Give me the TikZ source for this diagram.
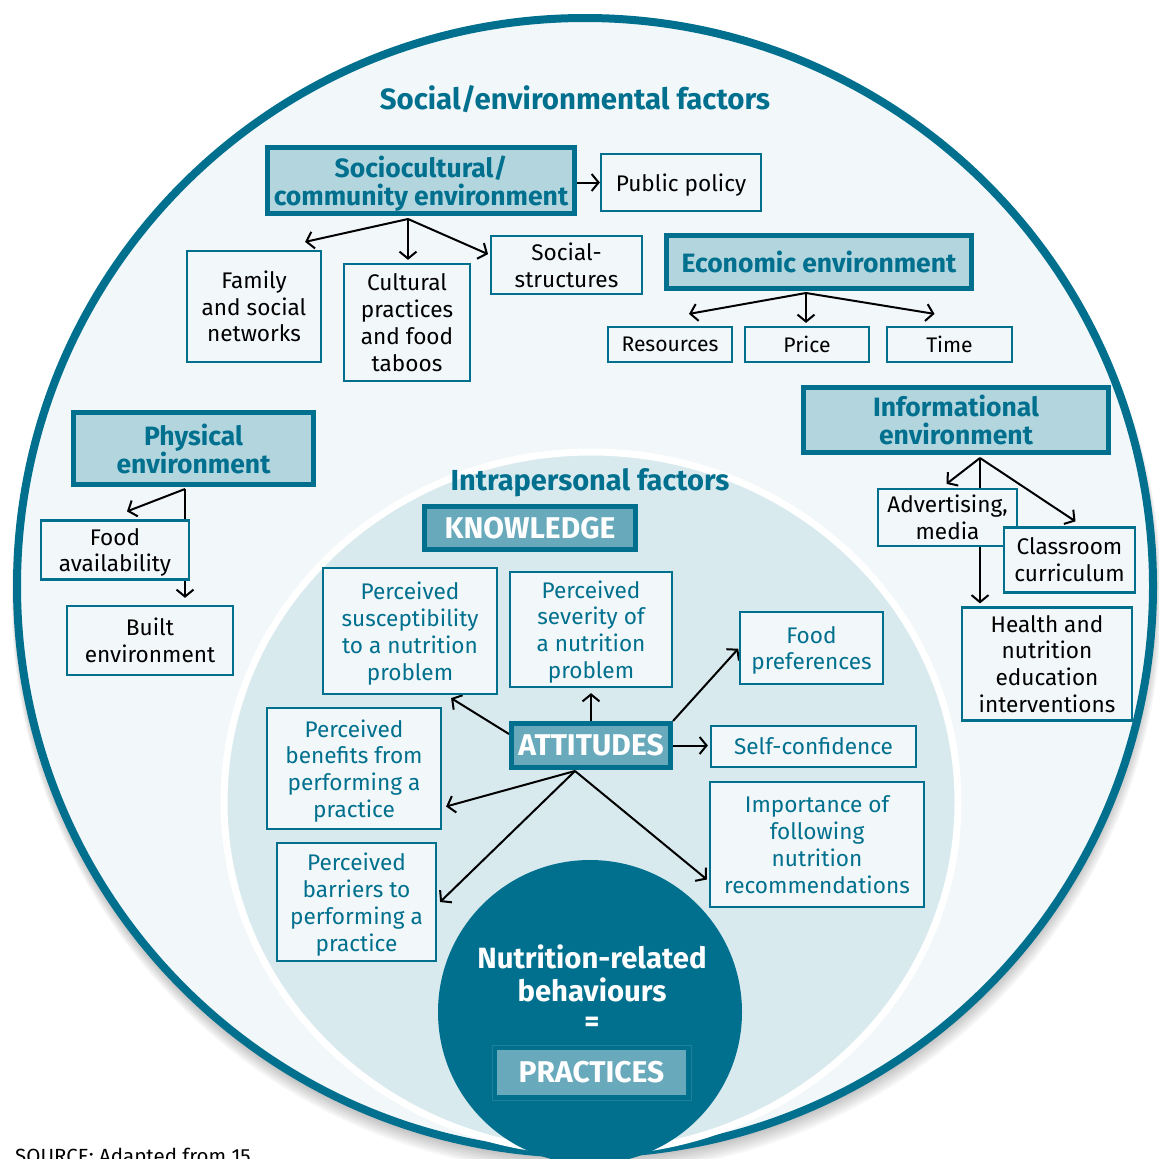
\documentclass[tikz,border=0pt]{standalone}
\usepackage{fontspec}
\setmainfont{Fira Sans}
\newfontfamily\headfont{Fira Sans}
\usetikzlibrary{arrows.meta,calc}
\definecolor{teal1}{RGB}{0,112,142}
\definecolor{bgfill}{RGB}{242,247,249}
\definecolor{innerfill}{RGB}{217,234,238}
\definecolor{headfill}{RGB}{178,213,222}
\definecolor{keyfill}{RGB}{104,169,187}
\definecolor{practline}{RGB}{30,128,155}
\pgfdeclarelayer{circles}
\pgfdeclarelayer{links}
\pgfsetlayers{circles,links,main}
\begin{document}
\begin{tikzpicture}[x=1pt,y=-1pt,
  headbox/.style={draw=teal1, line width=5pt, fill=headfill, text=teal1,
    font=\headfont\bfseries\fontsize{26.5}{28}\selectfont, align=center, inner sep=0pt},
  outbox/.style={draw=teal1, line width=2.2pt, fill=bgfill, text=black,
    font=\fontsize{22.6}{26.8}\selectfont, align=center, inner sep=0pt},
  inbox/.style={outbox, text=teal1},
  keybox/.style={draw=teal1, line width=5pt, fill=keyfill, text=white,
    font=\headfont\bfseries\fontsize{30}{32}\selectfont, inner sep=0pt},
  titletext/.style={text=teal1, font=\headfont\bfseries\fontsize{29.4}{32}\selectfont, inner sep=0pt},
  lowtext/.style={text depth=0pt},
  link/.style={line width=2pt, -{Straight Barb[length=7pt,width=17pt]}},
]
\useasboundingbox (0,0) rectangle (1159,1159);

% ---------- background circles ----------
\begin{pgfonlayer}{circles}
  \foreach \i in {1,...,9}{
    \fill[black, opacity=0.035] (584+0.3*\i, 586+1.4*\i) circle[radius=567pt+0.9pt*\i];
  }
  \fill[bgfill] (584,586) circle[radius=567pt];
  \draw[teal1, line width=8pt] (585,586) circle[radius=568pt];
  \draw[white, line width=7pt, fill=innerfill] (591,802) ellipse[x radius=367pt, y radius=350pt];
  \node[circle, fill=teal1, minimum size=304pt, inner sep=0pt] (behav) at (590,1012) {};
\end{pgfonlayer}

% ---------- titles ----------
\node[titletext] (title) at (575,99) {Social/environmental factors};
\node[titletext, lowtext, font=\headfont\bfseries\fontsize{29}{32}\selectfont] (intra) at (590,479) {Intrapersonal factors};

% ---------- sociocultural ----------
\node[headbox, text depth=-3pt, minimum width=307pt, minimum height=66pt] (socio) at (421,180.5) {Sociocultural/\\community environment};
\node[outbox, lowtext, minimum width=160pt, minimum height=57pt] (pub) at (681,182.5) {Public policy};
\node[outbox, minimum width=134pt, minimum height=111pt] (fam) at (254,306.5) {Family\\and social\\networks};
\node[outbox, minimum width=126pt, minimum height=117pt] (cult) at (407,322.5) {Cultural\\practices\\and food\\taboos};
\node[outbox, minimum width=151pt, minimum height=58pt] (soc) at (566.5,265) {Social-\\structures};

% ---------- economic ----------
\node[headbox, minimum width=305pt, minimum height=53pt] (econ) at (819,262) {Economic environment};
\node[outbox, font=\fontsize{21.1}{24}\selectfont, minimum width=124pt, minimum height=35pt] (res) at (670,344.5) {Resources};
\node[outbox, font=\fontsize{21.1}{24}\selectfont, minimum width=124pt, minimum height=35pt] (price) at (807,344.5) {Price};
\node[outbox, font=\fontsize{21.1}{24}\selectfont, minimum width=125pt, minimum height=35pt] (time) at (949.5,344.5) {Time};

% ---------- informational ----------
\node[headbox, minimum width=305pt, minimum height=65pt] (info) at (956,420) {Informational\\environment};
\node[outbox, minimum width=139pt, minimum height=57pt] (adv) at (947.5,517.5) {Advertising,\\media};
\node[outbox, minimum width=131pt, minimum height=65pt] (cls) at (1069.5,560) {Classroom\\curriculum};
\node[outbox, minimum width=170pt, minimum height=113pt] (hlth) at (1047,664) {Health and\\nutrition\\education\\interventions};

% ---------- physical ----------
\node[headbox, minimum width=240pt, minimum height=72pt] (phys) at (193.5,448.5) {Physical\\environment};
\node[outbox, lowtext, minimum width=148pt, minimum height=59pt] (food) at (115,550) {Food\\availability};
\node[outbox, minimum width=166pt, minimum height=69pt] (built) at (150,640.5) {Built\\environment};

% ---------- intrapersonal ----------
\node[keybox, minimum width=211pt, minimum height=43pt] (know) at (530,528) {KNOWLEDGE};
\node[inbox, lowtext, minimum width=174pt, minimum height=126pt] (susc) at (410,631) {Perceived\\susceptibility\\to a nutrition\\problem};
\node[inbox, lowtext, minimum width=162pt, minimum height=115pt] (sev) at (591,629.5) {Perceived\\severity of\\a nutrition\\problem};
\node[inbox, lowtext, minimum width=143pt, minimum height=72pt] (fpref) at (811.5,648) {Food\\preferences};
\node[keybox, minimum width=159pt, minimum height=44pt] (att) at (591,745.5) {ATTITUDES};
\node[inbox, minimum width=205pt, minimum height=41pt] (selfc) at (813.5,746.5) {Self-confidence};
\node[inbox, lowtext, minimum width=174pt, minimum height=121pt] (ben) at (354,768.5) {Perceived\\benefits from\\performing a\\practice};
\node[inbox, lowtext, minimum width=159pt, minimum height=118pt] (bar) at (356.5,902) {Perceived\\barriers to\\performing a\\practice};
\node[inbox, minimum width=214pt, minimum height=125pt] (imp) at (817,844.5) {Importance of\\following\\nutrition\\recommendations};

% ---------- practices ----------
\node[text=white, font=\headfont\bfseries\fontsize{29.3}{32.5}\selectfont, align=center, inner sep=0pt] (nrb) at (592,973.5) {Nutrition-related\\behaviours};
\node[text=white, font=\headfont\bfseries\fontsize{29}{32}\selectfont, inner sep=0pt] (eq) at (592,1024) {=};
\node[draw=practline, line width=1pt, minimum width=199pt, minimum height=55pt, inner sep=0pt] (practframe) at (591.5,1072.5) {};
\node[fill=keyfill, text=white, font=\headfont\bfseries\fontsize{30}{32}\selectfont, minimum width=189pt, minimum height=45pt, inner sep=0pt] (pract) at (591.5,1072.5) {PRACTICES};

% ---------- source ----------
\node[anchor=base west, font=\fontsize{20.5}{24}\selectfont, inner sep=0pt] (src) at (15,1163) {SOURCE: Adapted from 15};

% ---------- branch points ----------
\coordinate (scb) at (408,219);
\coordinate (ecb) at (806,293);
\coordinate (inb) at (980,458);
\coordinate (phb) at (185,489);
\coordinate (atb) at (575,771);

% ---------- connectors ----------
\begin{pgfonlayer}{links}
  \draw[link] (socio.east |- pub.west) -- (pub.west);
  \draw[link] (scb) -- ([xshift=-17pt,yshift=8pt]fam.north east);
  \draw[link, shorten >=3pt] (scb) -- (scb |- cult.north);
  \draw[link, shorten >=2pt] (scb) -- ([yshift=10pt]soc.west);

  \draw[link] (ecb) -- ([xshift=19pt,yshift=12pt]res.north);
  \draw[link, shorten >=3pt] (ecb) -- (ecb |- price.north);
  \draw[link] (ecb) -- ([xshift=-15pt,yshift=12pt]time.north);

  \draw[link] (inb) -- ([xshift=-1pt,yshift=4pt]adv.north);
  \draw[link, shorten >=3pt] (inb) -- (inb |- hlth.north);
  \draw[link] (inb) -- ([xshift=6pt,yshift=5pt]cls.north);

  \draw[link] (phb) -- ([xshift=12pt,yshift=8pt]food.north);
  \draw[link, shorten >=7pt] (phb) -- (phb |- built.north);

  \draw[link] ([yshift=-13pt]att.north west) -- ([xshift=-47pt,yshift=-3pt]susc.south east);
  \draw[link, shorten >=5pt] (att.north) -- (att.north |- sev.south);
  \draw[link, shorten >=1pt] (att.north east) -- (fpref.west);
  \draw[link, shorten >=2pt] (att.east) -- (att.east -| selfc.west);
  \draw[link] (atb) -- ([xshift=4pt,yshift=-38pt]ben.east);
  \draw[link] (atb) -- ([xshift=3pt]bar.east);
  \draw[link] (atb) -- ([xshift=-2pt,yshift=-35pt]imp.west);
\end{pgfonlayer}
\end{tikzpicture}
\end{document}
